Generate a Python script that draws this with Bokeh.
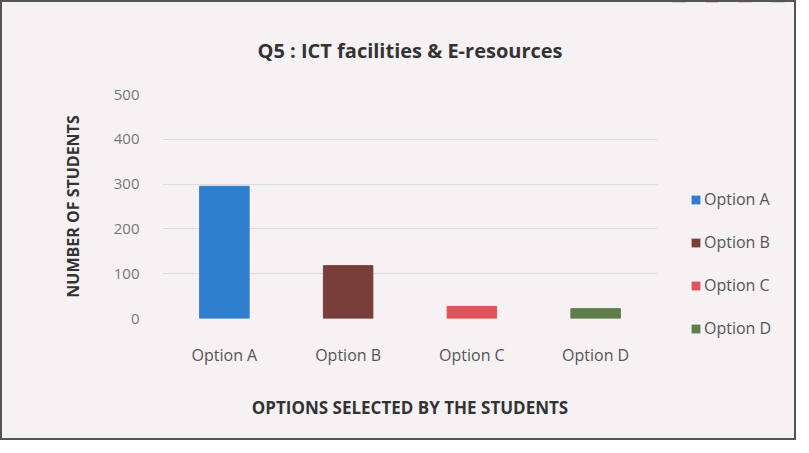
from bokeh.plotting import figure
from bokeh.layouts import row, column
from bokeh.models import ColumnDataSource, Legend, LegendItem
from bokeh.embed import file_html
from bokeh.resources import INLINE

options = ["Option A", "Option B", "Option C", "Option D"]
students = [295, 118, 27, 22]
colors = ["#2f7fcf", "#7a3e3a", "#e0525c", "#5e7d4a"]

src = ColumnDataSource(dict(options=options, students=students, colors=colors))

FONT = "Open Sans"
TXT = "#555555"
BG = "#f6f1f3"

p = figure(x_range=options, y_range=(0, 500), width=660, height=436,
           output_backend="svg", toolbar_location=None,
           min_border_left=160, min_border_right=5, min_border_top=92, min_border_bottom=120)

p.vbar(x="options", top="students", width=0.4, color="colors", source=src)

p.title.text = "Q5 : ICT facilities & E-resources"
p.title.align = "center"
p.title.offset = 25
p.title.text_font = FONT
p.title.text_font_size = "20px"
p.title.text_font_style = "bold"
p.title.text_color = "#333333"
p.title.standoff = 61

p.background_fill_color = BG
p.border_fill_color = BG
p.outline_line_color = None

p.yaxis.ticker = [0, 100, 200, 300, 400, 500]
p.yaxis.axis_line_color = None
p.yaxis.major_tick_line_color = None
p.yaxis.minor_tick_line_color = None
p.yaxis.major_label_text_font = FONT
p.yaxis.major_label_text_font_size = "15px"
p.yaxis.major_label_text_color = "#777777"
p.yaxis.major_label_standoff = 17
p.yaxis.axis_label = "NUMBER OF STUDENTS"
p.yaxis.axis_label_text_font = FONT
p.yaxis.axis_label_text_font_size = "16px"
p.yaxis.axis_label_text_font_style = "bold"
p.yaxis.axis_label_text_color = "#333333"
p.yaxis.axis_label_standoff = 27

p.xaxis.axis_line_color = None
p.xaxis.major_tick_line_color = None
p.xaxis.major_label_text_font = FONT
p.xaxis.major_label_text_font_size = "16px"
p.xaxis.major_label_text_color = TXT
p.xaxis.major_label_standoff = 19
p.xaxis.axis_label = "OPTIONS SELECTED BY THE STUDENTS"
p.xaxis.axis_label_text_font = FONT
p.xaxis.axis_label_text_font_size = "17px"
p.xaxis.axis_label_text_font_style = "bold"
p.xaxis.axis_label_text_color = "#333333"
p.xaxis.axis_label_standoff = 27

p.xgrid.grid_line_color = None
p.ygrid.grid_line_color = "#dddddd"

# legend panel: zero-height bars kept out of view, only their legend shows
q = figure(x_range=options, y_range=(-1000, -900), width=132, height=436,
           output_backend="svg", toolbar_location=None, min_border=0)
rq = q.vbar(x="options", top="students", bottom="students", width=0.4,
            fill_color="colors", line_color=None, source=src)
q.axis.visible = False
q.grid.visible = False
q.outline_line_color = None
q.background_fill_color = BG
q.border_fill_color = BG

items = [LegendItem(label=o, renderers=[rq], index=i) for i, o in enumerate(options)]
legend = Legend(items=items, location=(28, 99))
legend.background_fill_alpha = 0
legend.border_line_color = None
legend.label_text_font = FONT
legend.label_text_font_size = "16px"
legend.label_text_color = TXT
legend.glyph_width = 11
legend.glyph_height = 11
legend.spacing = 21
legend.label_standoff = 3
legend.padding = 6
legend.margin = 0
q.add_layout(legend)

layout = row(p, column(q, spacing=0), spacing=0,
             styles={"border": "2px solid #555555", "background": BG})

open("out.html", "w").write(file_html(layout, INLINE))
